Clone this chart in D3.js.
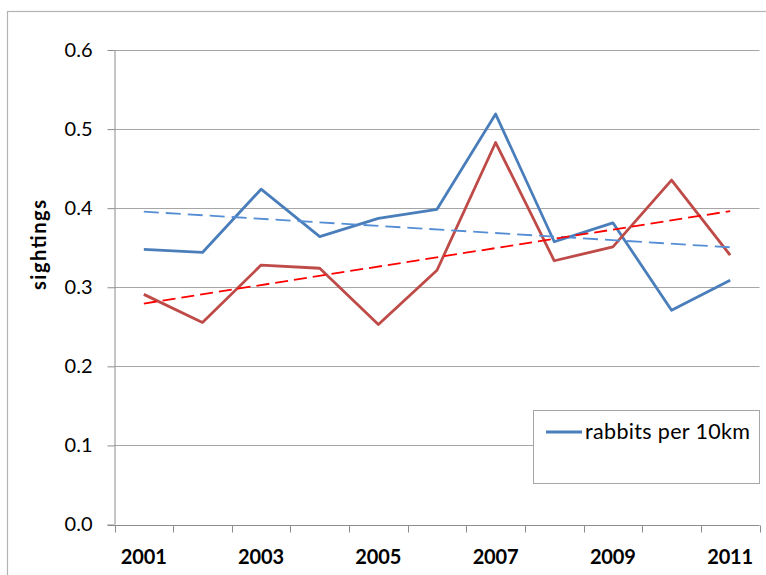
<!DOCTYPE html>
<html>
<head>
<meta charset="utf-8">
<script src="https://cdn.jsdelivr.net/npm/d3@7"></script>
<style>
  html, body { margin: 0; padding: 0; background: #fff; }
  svg { display: block; }
</style>
</head>
<body>
<svg id="chart" width="766" height="575"></svg>
<script>
// Survey years and yearly sightings
const years = ["2001","2002","2003","2004","2005","2006","2007","2008","2009","2010","2011"];
const rabbitsPer10km = [0.348, 0.344, 0.424, 0.364, 0.387, 0.3985, 0.519, 0.3575, 0.3815, 0.271, 0.309];
const secondSeries  = [0.291, 0.2555, 0.328, 0.324, 0.253, 0.3215, 0.483, 0.3335, 0.351, 0.4355, 0.3405];
const yTicks = [0, 0.1, 0.2, 0.3, 0.4, 0.5, 0.6];
const xLabelYears = ["2001","2003","2005","2007","2009","2011"];
const legendLabels = ["rabbits per 10km"];

const svg = d3.select("#chart");
const plot = { left: 114.5, right: 759.5, top: 50, bottom: 524.5 };
const font = "Lato, 'Open Sans', sans-serif";

// chart frame
svg.append("rect")
  .attr("x", 7.5).attr("y", 11.5)
  .attr("width", 800).attr("height", 600)
  .attr("fill", "#fff").attr("stroke", "#b3b3b3").attr("stroke-width", 1.2);

const x = d3.scaleBand().domain(years).range([plot.left, plot.right]).padding(0);
const y = d3.scaleLinear().domain([0, 0.6]).range([plot.bottom, plot.top]);
const cx = d => x(d) + x.bandwidth() / 2;

// horizontal gridlines
svg.append("g").selectAll("line").data(yTicks.filter(t => t > 0)).join("line")
  .attr("x1", plot.left).attr("x2", plot.right)
  .attr("y1", d => Math.round(y(d)) + 0.5).attr("y2", d => Math.round(y(d)) + 0.5)
  .attr("stroke", "#a6a6a6").attr("stroke-width", 1);

// y axis
const yAxis = d3.axisLeft(y).tickValues(yTicks).tickFormat(d3.format(".1f")).tickSize(7).tickPadding(15);
const gy = svg.append("g").attr("transform", `translate(${plot.left},0)`).call(yAxis);
gy.select(".domain").attr("stroke", "#8c8c8c").attr("d", `M0.5,${plot.top}V${plot.bottom}`);
gy.selectAll(".tick line").attr("stroke", "#8c8c8c");
gy.selectAll(".tick text")
  .attr("font-family", font).attr("font-size", 20).attr("fill", "#000");

// x axis: tick marks on category boundaries, labels on alternate years
const gx = svg.append("g").attr("transform", `translate(0,${Math.round(plot.bottom) + 0.5})`);
gx.append("line").attr("x1", plot.left - 7).attr("x2", plot.right)
  .attr("stroke", "#8c8c8c");
const boundaries = years.map(d => x(d)).concat([x(years[years.length - 1]) + x.bandwidth()]);
gx.selectAll("line.tk").data(boundaries).join("line").attr("class", "tk")
  .attr("x1", d => Math.round(d) + 0.5).attr("x2", d => Math.round(d) + 0.5)
  .attr("y1", 0).attr("y2", 7).attr("stroke", "#8c8c8c");
gx.selectAll("text").data(xLabelYears).join("text")
  .attr("x", d => cx(d)).attr("y", 38)
  .attr("text-anchor", "middle")
  .attr("font-family", font).attr("font-size", 20).attr("font-weight", "bold")
  .attr("textLength", 46).attr("lengthAdjust", "spacing")
  .text(d => d);

// y axis title
svg.append("text")
  .attr("transform", "translate(46,245) rotate(-90)")
  .attr("text-anchor", "middle")
  .attr("font-family", font).attr("font-size", 20).attr("font-weight", "bold")
  .attr("textLength", 90).attr("lengthAdjust", "spacing")
  .text("sightings");

// least-squares trend over the category index
function trend(values) {
  const n = values.length;
  const mx = (n - 1) / 2, my = d3.mean(values);
  let sxy = 0, sxx = 0;
  values.forEach((v, i) => { sxy += (i - mx) * (v - my); sxx += (i - mx) * (i - mx); });
  const b = sxy / sxx, a = my - b * mx;
  return [[years[0], a], [years[n - 1], a + b * (n - 1)]];
}

const line = d3.line().x(d => cx(d[0])).y(d => y(d[1]));

const seriesA = years.map((d, i) => [d, rabbitsPer10km[i]]);
const seriesB = years.map((d, i) => [d, secondSeries[i]]);

svg.append("path").datum(seriesA).attr("d", line)
  .attr("fill", "none").attr("stroke", "#4a7ebb").attr("stroke-width", 2.8).attr("stroke-linejoin", "round");
svg.append("path").datum(seriesB).attr("d", line)
  .attr("fill", "none").attr("stroke", "#be4b48").attr("stroke-width", 2.8).attr("stroke-linejoin", "round");

svg.append("path").datum(trend(rabbitsPer10km)).attr("d", line)
  .attr("fill", "none").attr("stroke", "#558ed5").attr("stroke-width", 1.8).attr("stroke-dasharray", "15,7");
svg.append("path").datum(trend(secondSeries)).attr("d", line)
  .attr("fill", "none").attr("stroke", "#ff0000").attr("stroke-width", 1.8).attr("stroke-dasharray", "13,6");

// legend
const lg = svg.append("g");
lg.append("rect").attr("x", 533.5).attr("y", 410.5).attr("width", 226).attr("height", 73)
  .attr("fill", "#fff").attr("stroke", "#a6a6a6").attr("stroke-width", 1);
legendLabels.forEach((label, i) => {
  lg.append("line").attr("x1", 546).attr("x2", 582).attr("y1", 432 + i * 24).attr("y2", 432 + i * 24)
    .attr("stroke", "#4a7ebb").attr("stroke-width", 2.8);
  lg.append("text").attr("x", 585).attr("y", 439 + i * 24)
    .attr("font-family", font).attr("font-size", 21.5)
    .attr("textLength", 165).attr("lengthAdjust", "spacing")
    .text(label);
});
</script>
</body>
</html>
